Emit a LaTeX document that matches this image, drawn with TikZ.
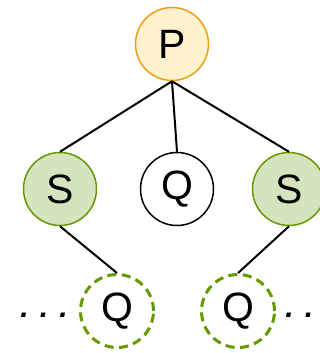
\documentclass[tikz,border=0pt]{standalone}
\usepackage{fontspec}
\setmainfont{Liberation Sans}
\usepackage{xcolor}
\usepackage{tikz}
\usetikzlibrary{positioning}

\definecolor{pfill}{RGB}{255,242,204}
\definecolor{pline}{RGB}{242,159,26}
\definecolor{sfill}{RGB}{211,228,190}
\definecolor{sline}{RGB}{102,153,0}

\tikzset{
    knot/.style={circle, minimum size=73pt, inner sep=0pt, line width=1.5pt,
        font=\fontsize{41}{41}\selectfont},
    pnode/.style={knot, draw=pline, fill=pfill},
    snode/.style={knot, draw=sline, fill=sfill},
    qnode/.style={knot, draw=black},
    qdash/.style={knot, draw=sline, line width=3pt, dash pattern=on 9pt off 5.5pt},
    link/.style={line width=2pt, black},
    more/.style={font=\fontsize{30}{30}\selectfont\bfseries\itshape, inner sep=0pt, anchor=base}
}

\begin{document}
\begin{tikzpicture}[x=1pt, y=-1pt]
    \clip (0,0) rectangle (320,353);
    \useasboundingbox (0,0) rectangle (320,353);
    % Baum: P oben, darunter S, Q, S
    \node[pnode] (p) at (172,44) {P};
    \node[snode] (s1) at (60,189) {S};
    \node[qnode] (q0) at (177,189) {Q};
    \node[snode] (s2) at (289,189) {S};
    \node[qdash] (q1) at (117,311) {Q};
    \node[qdash] (q2) at (238,311) {Q};
    \node[more] (d1) at (44,317) {. . .};
    \node[more] (d2) at (309,317) {. . .};
    \foreach \k in {s1,q0,s2} {
        \draw[link] (p.south) -- (\k.north);
    }
    \draw[link] (s1.south) -- (q1.north);
    \draw[link] (s2.south) -- (q2.north);
\end{tikzpicture}
\end{document}
